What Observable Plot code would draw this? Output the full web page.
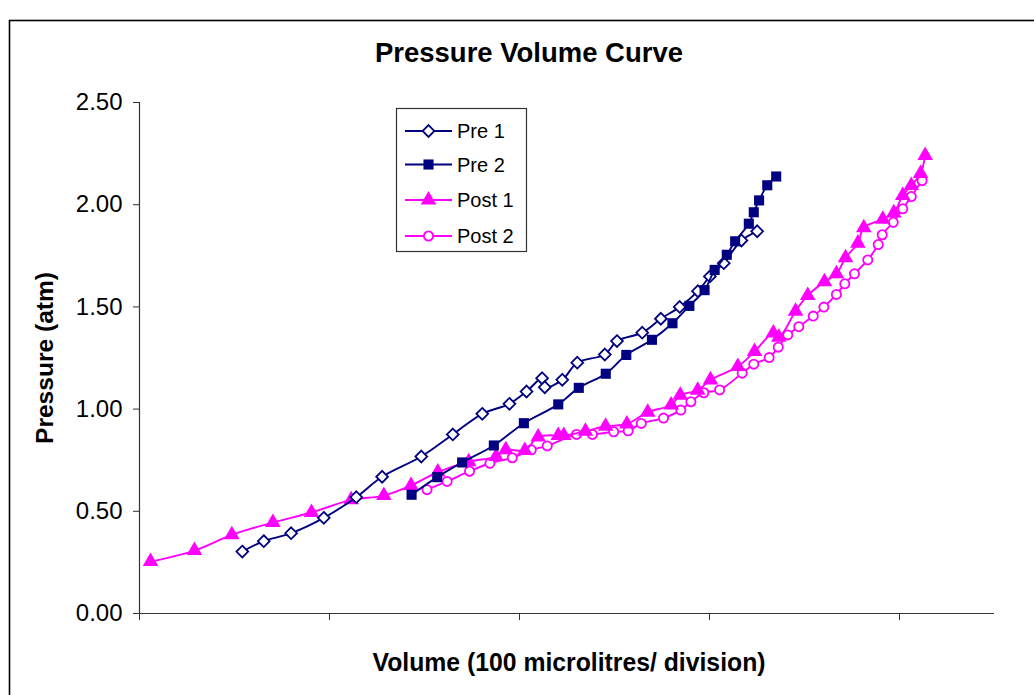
<!DOCTYPE html>
<html>
<head>
<meta charset="utf-8">
<script src="https://cdn.jsdelivr.net/npm/d3@7"></script>
<script src="https://cdn.jsdelivr.net/npm/@observablehq/plot@0.6"></script>
<style>
  html, body { margin: 0; padding: 0; background: white; }
</style>
</head>
<body>
<script>
// ---- Data ----
const seriesNames = ["Pre 1", "Pre 2", "Post 1", "Post 2"];
const yTicks = [0, 0.5, 1.0, 1.5, 2.0, 2.5];
const xTicks = [0, 1, 2, 3, 4];
const titleText = "Pressure Volume Curve";
const xLabelText = "Volume (100 microlitres/ division)";
const yLabelText = "Pressure (atm)";

const pre1X = [0.541,0.654,0.798,0.970,1.141,1.277,1.483,1.649,1.804,1.947,2.037,2.119,2.133,2.225,2.304,2.449,2.513,2.646,2.744,2.843,2.939,3.002,3.075,3.168,3.251];
const pre1Y = [0.303,0.354,0.393,0.468,0.569,0.669,0.768,0.876,0.977,1.026,1.086,1.151,1.107,1.143,1.227,1.267,1.333,1.374,1.442,1.500,1.577,1.649,1.714,1.825,1.870];

const pre2X = [1.432,1.567,1.698,1.865,2.023,2.204,2.312,2.454,2.562,2.697,2.805,2.894,2.974,3.027,3.091,3.135,3.207,3.233,3.261,3.304,3.351];
const pre2Y = [0.581,0.667,0.739,0.822,0.931,1.023,1.104,1.173,1.265,1.339,1.420,1.505,1.582,1.681,1.755,1.821,1.907,1.963,2.021,2.095,2.138];

const post1X = [0.058,0.289,0.486,0.702,0.905,1.114,1.286,1.429,1.570,1.733,1.877,1.928,2.028,2.098,2.204,2.233,2.347,2.453,2.565,2.675,2.798,2.846,2.938,3.005,3.149,3.237,3.336,3.365,3.453,3.517,3.605,3.668,3.716,3.781,3.812,3.912,3.970,4.017,4.062,4.111,4.135];
const post1Y = [0.254,0.308,0.385,0.445,0.494,0.556,0.577,0.626,0.692,0.742,0.768,0.801,0.797,0.864,0.871,0.871,0.892,0.916,0.927,0.985,1.020,1.068,1.092,1.143,1.208,1.282,1.372,1.352,1.479,1.556,1.623,1.662,1.740,1.812,1.887,1.929,1.960,2.045,2.094,2.153,2.241];

const post2X = [1.513,1.619,1.737,1.844,1.962,2.062,2.146,2.300,2.384,2.496,2.572,2.641,2.758,2.849,2.902,2.970,3.053,3.172,3.233,3.314,3.362,3.412,3.470,3.546,3.602,3.668,3.712,3.763,3.833,3.888,3.909,3.967,4.017,4.062,4.119];
const post2Y = [0.606,0.646,0.696,0.735,0.762,0.801,0.820,0.876,0.876,0.889,0.894,0.930,0.956,0.995,1.036,1.080,1.094,1.176,1.220,1.252,1.303,1.363,1.403,1.455,1.499,1.561,1.613,1.662,1.730,1.805,1.853,1.914,1.980,2.040,2.118];

// ---- Build rows ----
const toRows = (xs, ys, name) => xs.map((x, i) => ({x, y: ys[i], series: name}));
const pre1 = toRows(pre1X, pre1Y, seriesNames[0]);
const pre2 = toRows(pre2X, pre2Y, seriesNames[1]);
const post1 = toRows(post1X, post1Y, seriesNames[2]);
const post2 = toRows(post2X, post2Y, seriesNames[3]);

const NAVY = "#000080";
const MAGENTA = "#FF00FF";
const FONT = "Arial, 'Liberation Sans', sans-serif";

const styles = {
  "Pre 1":  {color: NAVY, symbol: "diamond2", fill: "white", stroke: NAVY, r: 5.3},
  "Pre 2":  {color: NAVY, symbol: "square", fill: NAVY, stroke: "none", r: 5.7},
  "Post 1": {color: MAGENTA, symbol: "triangle", fill: MAGENTA, stroke: "none", r: 5.8},
  "Post 2": {color: MAGENTA, symbol: "circle", fill: "white", stroke: MAGENTA, r: 4.6}
};

const lineAndDots = (data, name) => {
  const s = styles[name];
  return [
    Plot.line(data, {x: "x", y: "y", stroke: s.color, strokeWidth: 1.9, curve: "catmull-rom"}),
    Plot.dot(data, {x: "x", y: "y", symbol: () => s.symbol, r: s.r, fill: s.fill, stroke: s.stroke, strokeWidth: 1.8})
  ];
};

const chart = Plot.plot({
  width: 1034,
  height: 695,
  marginLeft: 139,
  marginRight: 40,
  marginTop: 102,
  marginBottom: 82,
  style: {fontFamily: FONT, fontSize: "24px", background: "white", color: "#222", overflow: "hidden"},
  x: {domain: [0, 4.5], axis: null},
  y: {domain: [0, 2.5], axis: null},
  marks: [
    Plot.axisY({ticks: yTicks, tickFormat: d3.format(".2f"), tickSize: 6, tickPadding: 11, fontSize: 24, fill: "#000", stroke: "#333", label: null}),
    Plot.axisX({ticks: xTicks, tickFormat: () => "", tickSize: 7, stroke: "#333", label: null}),
    Plot.ruleX([0], {stroke: "#333", strokeWidth: 1.2}),
    Plot.ruleY([0], {stroke: "#333", strokeWidth: 1.2}),
    ...lineAndDots(post2, "Post 2"),
    ...lineAndDots(post1, "Post 1"),
    ...lineAndDots(pre1, "Pre 1"),
    ...lineAndDots(pre2, "Pre 2")
  ]
});

// ---- Outer chart border, titles and legend ----
const svg = d3.select(chart);
svg.insert("rect", ":first-child")
  .attr("x", 9.5).attr("y", 20.5).attr("width", 1200).attr("height", 1000)
  .attr("fill", "white").attr("stroke", "#000").attr("stroke-width", 1.6);

const labels = svg.append("g").attr("font-family", FONT).attr("font-weight", "bold").attr("fill", "#000").attr("text-anchor", "middle");
labels.append("text").attr("x", 529).attr("y", 62).attr("font-size", 28)
  .attr("textLength", 308).attr("lengthAdjust", "spacingAndGlyphs").text(titleText);
labels.append("text").attr("x", 569).attr("y", 671).attr("font-size", 25)
  .attr("textLength", 393).attr("lengthAdjust", "spacingAndGlyphs").text(xLabelText);
labels.append("text").attr("transform", "translate(53,358) rotate(-90)").attr("font-size", 24)
  .attr("textLength", 172).attr("lengthAdjust", "spacingAndGlyphs").text(yLabelText);

const legend = svg.append("g").attr("font-family", FONT).attr("font-size", 20).attr("text-anchor", "start");
legend.append("rect")
  .attr("x", 396.5).attr("y", 108.5).attr("width", 130).attr("height", 143)
  .attr("fill", "white").attr("stroke", "#333").attr("stroke-width", 1.2);
const legendY = [131, 164.5, 200, 236];
const symbolMap = {diamond2: d3.symbolDiamond2, square: d3.symbolSquare, triangle: d3.symbolTriangle, circle: d3.symbolCircle};
seriesNames.forEach((name, i) => {
  const s = styles[name];
  const y = legendY[i];
  legend.append("line").attr("x1", 405).attr("x2", 452).attr("y1", y).attr("y2", y)
    .attr("stroke", s.color).attr("stroke-width", 1.9);
  legend.append("path")
    .attr("transform", `translate(428.5,${y})`)
    .attr("d", d3.symbol(symbolMap[s.symbol], Math.PI * s.r * s.r)())
    .attr("fill", s.fill).attr("stroke", s.stroke).attr("stroke-width", 1.8);
  legend.append("text").attr("x", 457).attr("y", y + 7).attr("fill", "#000").text(name);
});

document.body.appendChild(chart);
</script>
</body>
</html>
